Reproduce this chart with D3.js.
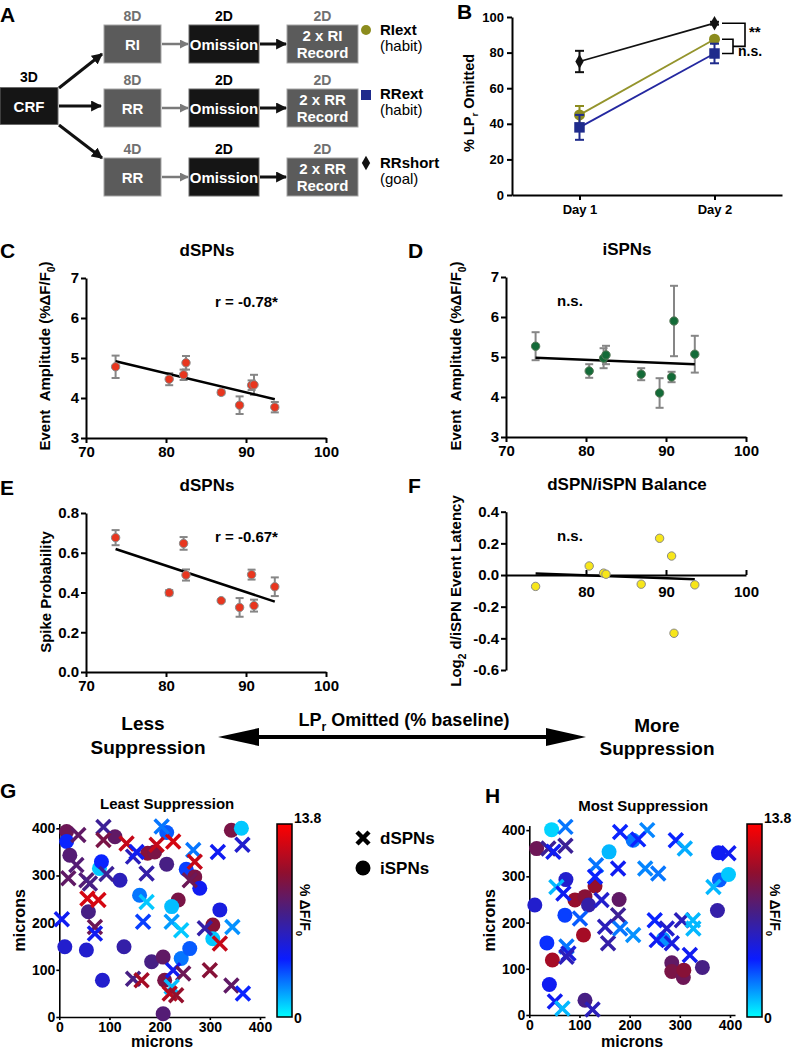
<!DOCTYPE html>
<html>
<head>
<meta charset="utf-8">
<script src="https://cdn.jsdelivr.net/npm/d3@7"></script>
<style>
body { margin: 0; background: #fff; }
</style>
</head>
<body>
<script>
const WIDTH = 795;
const HEIGHT = 1050;
const FONT = '"Liberation Sans", Arial, Helvetica, sans-serif';

// panel A - training schedule
var groups = ['RIext', 'RRext', 'RRshort'];
var groupNotes = ['(habit)', '(habit)', '(goal)'];
var trainDays = ['8D', '8D', '4D'];
var schedules = ['RI', 'RR', 'RR'];
var recordText = ['2 x RI', '2 x RR', '2 x RR'];

// panel B - % LPr omitted
var days = ['Day 1', 'Day 2'];
var riextMean = [45, 87.5];
var riextErr = [5, 1];
var rrextMean = [38, 79.5];
var rrextErr = [7, 5.5];
var rrshortMean = [75, 96.5];
var rrshortErr = [6, 0.8];

// panels C-F, one value per mouse, x = LPr omitted (% baseline)
var lpOmitted = [73.7, 80.4, 82.2, 82.5, 86.9, 89.2, 90.7, 91.0, 93.6];
var dAmp = [4.78, 4.47, 4.58, 4.88, 4.14, 3.82, 4.32, 4.33, 3.77];
var dAmpErr = [0.28, 0.15, 0.13, 0.17, 0.05, 0.22, 0.12, 0.25, 0.13];
var iAmp = [5.27, 4.65, 4.97, 5.05, 4.57, 4.1, 4.5, 5.9, 5.07];
var iAmpErr = [0.35, 0.17, 0.25, 0.23, 0.15, 0.37, 0.13, 0.88, 0.46];
var dSpike = [0.676, 0.399, 0.647, 0.488, 0.359, 0.325, 0.49, 0.334, 0.429];
var dSpikeErr = [0.038, 0.013, 0.032, 0.028, 0.005, 0.047, 0.025, 0.03, 0.047];
var latBalance = [-0.072, 0.057, 0.012, 0.005, -0.058, 0.232, 0.12, -0.368, -0.062];
var fitRange = [73.7, 93.6];
var dAmpFit = [4.92, 3.97];
var iAmpFit = [4.98, 4.82];
var dSpikeFit = [0.619, 0.354];
var latFit = [0.01, -0.026];

// panels G/H - cell positions [x microns, y microns, %dF/F0]
var cmapMax = 13.8;
var gDSPN = [[38,386,8.5],[88,403,7],[88,375,9.5],[134,368,12],[147,340,6],[154,350,4.5],[194,365,12],[227,372,12.5],
  [204,404,2.5],[267,354,2.5],[316,350,4.5],[365,365,5.5],[34,322,8],[18,294,8.5],[54,290,8],[61,283,7.5],[94,303,7],
  [174,304,6.5],[270,329,12],[260,290,9],[56,251,12.5],[78,248,12.5],[174,244,1],[5,207,4.5],[71,191,9],[71,177,4.5],
  [167,202,3.5],[224,202,1.8],[243,184,1],[290,188,6.5],[345,191,2],[320,156,12],[147,81,7.5],[164,78,11],[227,99,4.5],
  [247,92,9],[224,64,1.2],[220,50,11.5],[233,46,10.5],[300,99,10],[343,67,8.5],[366,50,4]];
var gISPN = [[14.6,393,9],[14.6,372,4],[21,343,8],[80,315,1],[84,329,4],[111,382,8.5],[121,290,6],[58,223,7.5],
  [11,149,5.5],[54,142,5.5],[86,78,5.5],[129,149,6.5],[176,347,10],[190,350,9.5],[214,324,7.5],[160,258,2.5],
  [237,248,9.5],[224,234,1.2],[253,313,3.5],[270,297,9.5],[280,273,4.5],[214,391,3],[343,396,9.5],[363,400,1],
  [320,227,5],[306,195,10],[306,166,1],[184,117,7.5],[207,127,8.5],[210,78,9.5],[243,124,2.5],[260,145,3],[207,7,8]];
var hDSPN = [[72,407,2.5],[38,360,7],[48,353,4.5],[72,366,7],[181,396,4],[235,400,2.2],[217,380,4],[292,378,4],
  [310,360,1.5],[397,350,4.5],[133,324,2.5],[131,299,4],[177,317,4.5],[231,317,2.2],[257,306,2.5],[54,277,1.3],
  [68,263,4.5],[367,277,1.3],[144,249,5.5],[177,216,7],[101,209,3],[151,191,6],[157,155,6.5],[181,187,2.5],[207,173,2],
  [250,205,4],[274,187,5.5],[254,162,4.5],[284,155,5],[304,205,6],[326,205,1.3],[327,187,1.3],[320,130,4.5],
  [74,148,2.5],[78,133,5],[74,126,6],[51,29,4.5],[66,14,1.3],[126,12,6]];
var hISPN = [[44.5,401,0.8],[14.6,360,9],[159,353,1.3],[207,378,2.5],[73,293,5.5],[11,238,5.5],[71,216,3.5],
  [35,156,3.8],[46,119,11],[40,66,4.5],[91,249,10.5],[111,256,10],[131,279,10.5],[118,238,6.5],[179,250,8.5],
  [108,173,11],[111,32,7.5],[267,164,2],[284,113,8.5],[284,94,9.5],[307,81,9],[308,97,10],[345,103,7.5],
  [375,226,6.5],[377,351,4.5],[379,292,3],[397,304,1]];


var svg = d3.select('body').append('svg')
    .attr('width', WIDTH)
    .attr('height', HEIGHT)
    .style('font-family', FONT);
var defs = svg.append('defs');

var translate = function (x, y) {
    return 'translate(' + x + ',' + y + ')';
};

var addText = function (parent, x, y, s, size, anchor, weight, fill) {
    return parent.append('text')
        .attr('x', x).attr('y', y)
        .attr('font-size', size)
        .attr('font-weight', weight || 'bold')
        .attr('text-anchor', anchor || 'start')
        .attr('fill', fill || '#000')
        .text(s);
};

// text with a subscript in the middle
var addSub = function (el, before, sub, after, size) {
    el.text(null);
    el.append('tspan').text(before);
    el.append('tspan').text(sub).attr('font-size', size * 0.68).attr('dy', size * 0.3);
    el.append('tspan').text(after).attr('dy', -size * 0.3);
    return el;
};

var styleAxis = function (g, size, width) {
    g.attr('font-family', FONT);
    g.selectAll('text').attr('font-size', size).attr('font-weight', 'bold').attr('fill', '#000');
    g.selectAll('path, line').attr('stroke', '#000').attr('stroke-width', width);
};

// panel letters
[['A', 0, 22], ['B', 457, 19], ['C', 0, 258], ['D', 408, 258],
 ['E', 0, 495], ['F', 408, 493], ['G', 0, 798], ['H', 485, 803]].forEach(function (d) {
    addText(svg, d[1], d[2], d[0], 21);
});

// ---------------- panel A ----------------
var ROW_Y = [44, 108, 177];
var makeHead = function (id, color, len) {
    defs.append('marker')
        .attr('id', id)
        .attr('viewBox', '0 0 10 10')
        .attr('refX', 9).attr('refY', 5)
        .attr('markerWidth', len).attr('markerHeight', len)
        .attr('markerUnits', 'userSpaceOnUse')
        .attr('orient', 'auto')
        .append('path').attr('d', 'M0,0 L10,5 L0,10 z').attr('fill', color);
};
makeHead('headBlack', '#111', 11);
makeHead('headGrey', '#7a7a7a', 9);

var gA = svg.append('g');
var box = function (x, y, w, h, dark, lines) {
    gA.append('rect')
        .attr('x', x).attr('y', y - h / 2)
        .attr('width', w).attr('height', h)
        .attr('fill', dark ? '#151515' : '#5b5b5b')
        .attr('stroke', dark ? '#6a6a6a' : '#a5a5a5')
        .attr('stroke-width', 1);
    lines.forEach(function (s, i) {
        addText(gA, x + w / 2, y + 5.5 + (i - (lines.length - 1) / 2) * 16.5, s, 15, 'middle', 'bold', '#fff');
    });
};
var arrow = function (x1, y1, x2, y2, color, width, head) {
    gA.append('line')
        .attr('x1', x1).attr('y1', y1).attr('x2', x2).attr('y2', y2)
        .attr('stroke', color).attr('stroke-width', width)
        .attr('marker-end', 'url(#' + head + ')');
};

box(0, 106, 58, 37, true, ['CRF']);
addText(gA, 29, 82, '3D', 14, 'middle');
[[59, 88, 102, 54], [59, 106, 101, 106], [59, 125, 102, 158]].forEach(function (a) {
    arrow(a[0], a[1], a[2], a[3], '#111', 3, 'headBlack');
});

groups.forEach(function (grp, i) {
    var y = ROW_Y[i];
    box(104, y, 57, 38, false, [schedules[i]]);
    box(189, y, 70, 38, true, ['Omission']);
    box(287, y, 71, 38, false, [recordText[i], 'Record']);
    addText(gA, 132.5, y - 23.5, trainDays[i], 14, 'middle', 'bold', '#707070');
    addText(gA, 224, y - 23.5, '2D', 14, 'middle', 'bold', '#000');
    addText(gA, 322.5, y - 23.5, '2D', 14, 'middle', 'bold', '#707070');
    arrow(162, y, 188, y, '#7a7a7a', 2.5, 'headGrey');
    arrow(260, y, 286, y, '#111', 3, 'headBlack');
    addText(gA, 380, y - 9, grp, 15, 'start', 'bold');
    addText(gA, 380, y + 7, groupNotes[i], 15, 'start', 'normal');
});
gA.append('circle').attr('cx', 366).attr('cy', ROW_Y[0] - 14).attr('r', 5).attr('fill', '#8c8c1e');
gA.append('path').attr('transform', translate(366, ROW_Y[1] - 13))
    .attr('d', d3.symbol(d3.symbolSquare, 100)()).attr('fill', '#1f2b8c');
gA.append('path').attr('transform', translate(366, ROW_Y[2] - 14))
    .attr('d', d3.symbol(d3.symbolDiamond, 60)()).attr('fill', '#111');

// ---------------- panel B ----------------
var bx = d3.scalePoint().domain(days).range([512, 782]).padding(0.5);
var by = d3.scaleLinear().domain([0, 100]).range([195, 17]);
var gB = svg.append('g');

gB.append('g').attr('transform', translate(0, 195))
    .call(d3.axisBottom(bx).tickSize(5).tickSizeOuter(0).tickPadding(5))
    .call(styleAxis, 13, 2);
gB.append('g').attr('transform', translate(512, 0))
    .call(d3.axisLeft(by).tickValues([0, 20, 40, 60, 80, 100]).tickSize(5).tickSizeOuter(0).tickPadding(3))
    .call(styleAxis, 13, 2);
addSub(addText(gB, 0, 0, '', 14.5, 'middle').attr('transform', translate(474, 103) + ' rotate(-90)'),
    '% LP', 'r', ' Omitted', 14.5);

var bSeries = [
    {mean: riextMean, err: riextErr, color: '#8c8c1e', line: '#94942c', shape: d3.symbolCircle, size: 95},
    {mean: rrextMean, err: rrextErr, color: '#1f2b8c', line: '#2428a0', shape: d3.symbolSquare, size: 110},
    {mean: rrshortMean, err: rrshortErr, color: '#111', line: '#111', shape: d3.symbolDiamond, size: 60}
];
var bLine = d3.line()
    .x(function (d, i) { return bx(days[i]); })
    .y(function (d) { return by(d); });

bSeries.forEach(function (s) {
    var g = gB.append('g');
    g.append('path').attr('d', bLine(s.mean)).attr('fill', 'none')
        .attr('stroke', s.line).attr('stroke-width', 1.8);
    s.mean.forEach(function (m, i) {
        var cx = bx(days[i]);
        var lo = by(m - s.err[i]), hi = by(m + s.err[i]);
        g.append('line').attr('x1', cx).attr('x2', cx).attr('y1', lo).attr('y2', hi)
            .attr('stroke', s.color).attr('stroke-width', 2);
        [lo, hi].forEach(function (yy) {
            g.append('line').attr('x1', cx - 4.5).attr('x2', cx + 4.5).attr('y1', yy).attr('y2', yy)
                .attr('stroke', s.color).attr('stroke-width', 2);
        });
        g.append('path').attr('transform', translate(cx, by(m)))
            .attr('d', d3.symbol(s.shape, s.size)()).attr('fill', s.color);
    });
});

// significance brackets
var bracket = function (top, bot, xr, xl, xEnd) {
    gB.append('path')
        .attr('d', 'M' + xl + ',' + by(top) + 'H' + xr + 'V' + by(bot) + 'H' + xEnd)
        .attr('fill', 'none').attr('stroke', '#000').attr('stroke-width', 1.6);
};
bracket(rrshortMean[1], 83.5, 745, 722, 733);
bracket(riextMean[1], rrextMean[1], 733, 722, 722);
addText(gB, 749, 37, '**', 15);
addText(gB, 738, 56, 'n.s.', 14);

// ---------------- panels C-F ----------------
var corrPanel = function (p) {
    var x = d3.scaleLinear().domain([70, 100]).range([p.left, p.left + 240]);
    var y = d3.scaleLinear().domain(p.yDomain).range([p.bottom, p.top]);
    var g = svg.append('g');

    if (p.zeroAxis) {
        g.append('g').attr('transform', translate(0, y(0)))
            .call(d3.axisBottom(x).tickValues([80, 90, 100]).tickSizeInner(-5).tickSizeOuter(0).tickPadding(11))
            .call(styleAxis, 15, 2);
    } else {
        g.append('g').attr('transform', translate(0, p.bottom))
            .call(d3.axisBottom(x).tickValues([70, 80, 90, 100]).tickSize(5).tickSizeOuter(0).tickPadding(3))
            .call(styleAxis, 15, 2);
    }
    g.append('g').attr('transform', translate(p.left, 0))
        .call(d3.axisLeft(y).tickValues(p.yTicks).tickSize(5).tickSizeOuter(0).tickPadding(2)
            .tickFormat(p.fmt))
        .call(styleAxis, 15, 2);

    var lab = addText(g, 0, 0, '', 15, 'middle')
        .attr('transform', translate(p.labelX, p.labelY) + ' rotate(-90)');
    addSub(lab, p.label[0], p.label[1], p.label[2], 15);

    addText(g, p.left + 121, p.top - 22, p.title, 17, 'middle');
    addText(g, p.noteX, p.top + 29, p.note, 15);

    if (p.err) {
        p.values.forEach(function (v, i) {
            var cx = x(lpOmitted[i]);
            var lo = y(v - p.err[i]), hi = y(v + p.err[i]);
            g.append('line').attr('x1', cx).attr('x2', cx).attr('y1', lo).attr('y2', hi)
                .attr('stroke', '#868686').attr('stroke-width', 2);
            [lo, hi].forEach(function (yy) {
                g.append('line').attr('x1', cx - 4).attr('x2', cx + 4).attr('y1', yy).attr('y2', yy)
                    .attr('stroke', '#868686').attr('stroke-width', 2);
            });
        });
    }
    g.append('line')
        .attr('x1', x(fitRange[0])).attr('y1', y(p.fit[0]))
        .attr('x2', x(fitRange[1])).attr('y2', y(p.fit[1]))
        .attr('stroke', '#000').attr('stroke-width', 2.5);
    g.selectAll('circle.pt').data(p.values).enter().append('circle')
        .attr('class', 'pt')
        .attr('cx', function (d, i) { return x(lpOmitted[i]); })
        .attr('cy', function (d) { return y(d); })
        .attr('r', 4.2)
        .attr('fill', p.color)
        .attr('stroke', p.stroke).attr('stroke-width', 1);
};

var fmtInt = d3.format('d');
var fmt1 = function (d) { return d.toFixed(1); };

corrPanel({left: 86, top: 278, bottom: 438, yDomain: [3, 7], yTicks: [3, 4, 5, 6, 7], fmt: fmtInt,
    values: dAmp, err: dAmpErr, fit: dAmpFit, color: '#e8361f', stroke: '#8a8a8a',
    title: 'dSPNs', note: 'r = -0.78*', noteX: 215,
    label: ['Event\u00a0\u00a0Amplitude (%\u0394F/F', '0', ')'], labelX: 50, labelY: 356});
corrPanel({left: 506, top: 277, bottom: 437, yDomain: [3, 7], yTicks: [3, 4, 5, 6, 7], fmt: fmtInt,
    values: iAmp, err: iAmpErr, fit: iAmpFit, color: '#136b38', stroke: '#5a7a5a',
    title: 'iSPNs', note: 'n.s.', noteX: 557,
    label: ['Event\u00a0\u00a0Amplitude (%\u0394F/F', '0', ')'], labelX: 461, labelY: 356});
corrPanel({left: 86, top: 513, bottom: 672, yDomain: [0, 0.8], yTicks: [0, 0.2, 0.4, 0.6, 0.8], fmt: fmt1,
    values: dSpike, err: dSpikeErr, fit: dSpikeFit, color: '#e8361f', stroke: '#8a8a8a',
    title: 'dSPNs', note: 'r = -0.67*', noteX: 215,
    label: ['Spike Probability', '', ''], labelX: 51, labelY: 592});
corrPanel({left: 506, top: 511.7, bottom: 670, yDomain: [-0.6, 0.4], yTicks: [-0.6, -0.4, -0.2, 0, 0.2, 0.4],
    fmt: fmt1, zeroAxis: true,
    values: latBalance, err: null, fit: latFit, color: '#f7e61a', stroke: '#8a8a8a',
    title: 'dSPN/iSPN Balance', note: 'n.s.', noteX: 557,
    label: ['Log', '2', ' d/iSPN Event Latency'], labelX: 461, labelY: 591});

// ---------------- suppression arrow ----------------
var gM = svg.append('g');
addText(gM, 143, 730, 'Less', 19, 'middle');
addText(gM, 148, 754, 'Suppression', 19, 'middle');
addText(gM, 657, 732, 'More', 19, 'middle');
addText(gM, 657, 755, 'Suppression', 19, 'middle');
addSub(addText(gM, 404, 726, '', 18, 'middle'), 'LP', 'r', ' Omitted (% baseline)', 18);
gM.append('line').attr('x1', 255).attr('x2', 550).attr('y1', 737).attr('y2', 737)
    .attr('stroke', '#000').attr('stroke-width', 4);
gM.append('path').attr('d', 'M218,737 L259,728 L259,746 Z').attr('fill', '#000');
gM.append('path').attr('d', 'M586,737 L546,728 L546,746 Z').attr('fill', '#000');

// ---------------- panels G/H ----------------
var cmapStops = [0, 0.3, 0.53, 0.74, 1];
var cmapColors = ['#00ffff', '#0a1cff', '#42208a', '#8c1030', '#ff0000'];
var cmap = d3.scaleLinear()
    .domain(cmapStops.map(function (d) { return d * cmapMax; }))
    .range(cmapColors)
    .interpolate(d3.interpolateRgb);

var grad = defs.append('linearGradient').attr('id', 'cbar')
    .attr('x1', 0).attr('y1', 1).attr('x2', 0).attr('y2', 0);
d3.range(0, 1.0001, 0.05).forEach(function (t) {
    grad.append('stop').attr('offset', t).attr('stop-color', cmap(t * cmapMax));
});

var mapPanel = function (p) {
    var x = d3.scaleLinear().domain([0, 410]).range([p.left, p.right]);
    var y = d3.scaleLinear().domain([0, 410]).range([p.bottom, p.top]);
    var g = svg.append('g');
    var ticks = [0, 100, 200, 300, 400];

    g.append('g').attr('transform', translate(0, p.bottom))
        .call(d3.axisBottom(x).tickValues(ticks).tickSize(3).tickSizeOuter(0).tickPadding(2))
        .call(styleAxis, 14, 1.6);
    g.append('g').attr('transform', translate(p.left, 0))
        .call(d3.axisLeft(y).tickValues(ticks).tickSize(3).tickSizeOuter(0).tickPadding(1))
        .call(styleAxis, 14, 1.6);

    addText(g, (p.left + p.right) / 2 + p.titleDx, p.top - 15, p.title, 15, 'middle');
    addText(g, (p.left + p.right) / 2, 1047, 'microns', 16, 'middle');
    addText(g, 0, 0, 'microns', 16, 'middle')
        .attr('transform', translate(p.left - 34, (p.top + p.bottom) / 2) + ' rotate(-90)');

    g.selectAll('circle.cell').data(p.ispn).enter().append('circle')
        .attr('class', 'cell')
        .attr('cx', function (d) { return x(d[0]); })
        .attr('cy', function (d) { return y(d[1]); })
        .attr('r', 7.5)
        .attr('fill', function (d) { return cmap(d[2]); });
    g.selectAll('path.cell').data(p.dspn).enter().append('path')
        .attr('class', 'cell')
        .attr('transform', function (d) { return translate(x(d[0]), y(d[1])); })
        .attr('d', 'M-7,-7L7,7M-7,7L7,-7')
        .attr('stroke', function (d) { return cmap(d[2]); })
        .attr('stroke-width', 3.5)
        .attr('fill', 'none');

    // colour bar
    var cb = d3.scaleLinear().domain([0, cmapMax]).range([1017, 824]);
    g.append('rect')
        .attr('x', p.cbar).attr('y', cb(cmapMax))
        .attr('width', 15).attr('height', cb(0) - cb(cmapMax))
        .attr('fill', 'url(#cbar)')
        .attr('stroke', '#000').attr('stroke-width', 1.5);
    addText(g, p.cbar + 17, cb(cmapMax) - 1, String(cmapMax), 14);
    addText(g, p.cbar + 17, cb(0) + 6, '0', 14);
    var cl = addText(g, 0, 0, '', 14, 'middle')
        .attr('transform', translate(p.cbar + 23, 910) + ' rotate(90)');
    addSub(cl, '% \u0394F/F', '0', '', 14);
};

mapPanel({left: 59.3, right: 265, top: 823.6, bottom: 1017, cbar: 277, title: 'Least Suppression', titleDx: 5,
    dspn: gDSPN, ispn: gISPN});
mapPanel({left: 529.3, right: 735, top: 825.5, bottom: 1015, cbar: 747, title: 'Most Suppression', titleDx: 11,
    dspn: hDSPN, ispn: hISPN});

// legend between G and H
var gL = svg.append('g');
gL.append('path').attr('transform', translate(363, 838))
    .attr('d', 'M-6,-6L6,6M-6,6L6,-6').attr('stroke', '#000').attr('stroke-width', 4.5);
gL.append('circle').attr('cx', 363).attr('cy', 868).attr('r', 7.5).attr('fill', '#000');
addText(gL, 380, 844, 'dSPNs', 17);
addText(gL, 380, 874, 'iSPNs', 17);
</script>
</body>
</html>
